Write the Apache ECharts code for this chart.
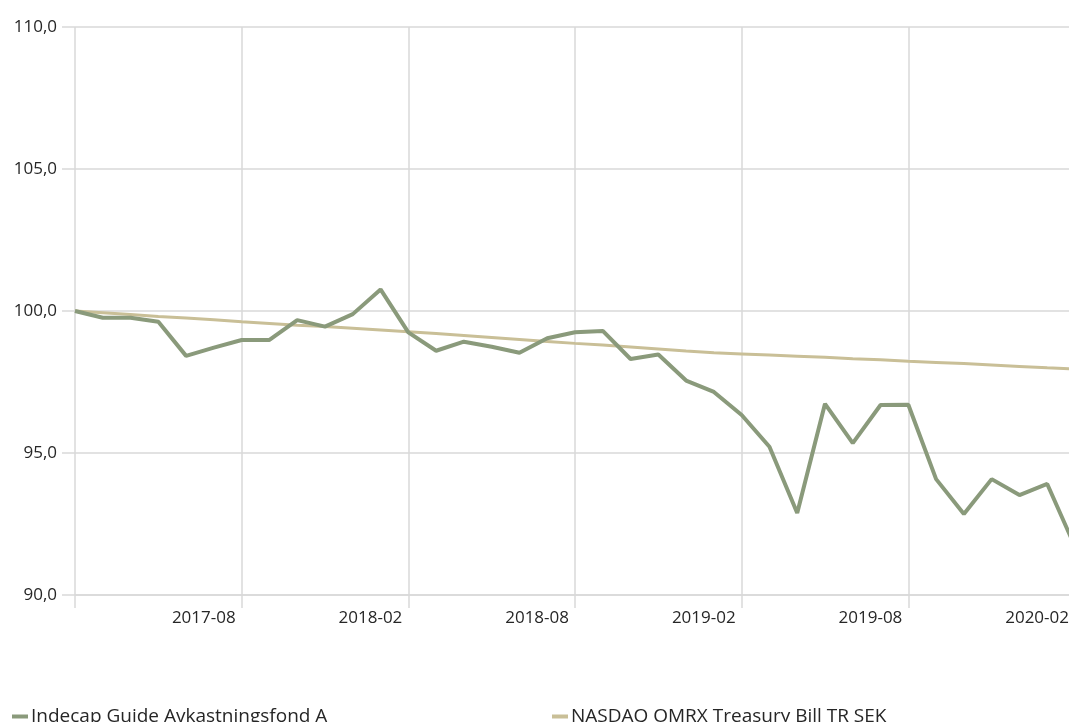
<!DOCTYPE html>
<html>
<head>
<meta charset="utf-8">
<script src="https://cdn.jsdelivr.net/npm/echarts@6/dist/echarts.min.js"></script>
<style>html,body{margin:0;padding:0;background:#fff}#c{width:1069px;height:722px}</style>
</head>
<body>
<div id="c"></div>
<script>
const months = ['2017-02','2017-03','2017-04','2017-05','2017-06','2017-07','2017-08','2017-09','2017-10','2017-11','2017-12',
'2018-01','2018-02','2018-03','2018-04','2018-05','2018-06','2018-07','2018-08','2018-09','2018-10','2018-11','2018-12',
'2019-01','2019-02','2019-03','2019-04','2019-05','2019-06','2019-07','2019-08','2019-09','2019-10','2019-11','2019-12',
'2020-01','2020-02'];
const fundName = 'Indecap Guide Avkastningsfond A';
const benchName = 'NASDAQ OMRX Treasury Bill TR SEK';
const fundValues = [100.00,99.76,99.76,99.62,98.42,98.71,98.98,98.98,99.68,99.45,99.89,
100.76,99.25,98.60,98.92,98.74,98.53,99.04,99.25,99.30,98.31,98.47,97.55,
97.15,96.34,95.22,92.89,96.73,95.35,96.69,96.70,94.08,92.85,94.08,93.52,
93.91,91.70];
const benchValues = [100.00,99.94,99.88,99.81,99.75,99.69,99.62,99.56,99.50,99.45,99.39,
99.33,99.27,99.21,99.14,99.07,99.00,98.93,98.86,98.80,98.73,98.66,98.59,
98.53,98.49,98.45,98.41,98.37,98.32,98.28,98.23,98.19,98.15,98.10,98.05,
98.00,97.96];
const yTicks = {min: 90, max: 110, step: 5};

const font = '"Open Sans", sans-serif';
const gridColor = '#d9d9d9';
const chart = echarts.init(document.getElementById('c'), null, {renderer: 'canvas'});
chart.setOption({
  animation: false,
  backgroundColor: '#ffffff',
  grid: {left: 75, top: 27, width: 1000, height: 568, containLabel: false, outerBoundsMode: 'none'},
  legend: [
    {data: [fundName], left: 12, top: 707, padding: 0, icon: 'rect', itemWidth: 16, itemHeight: 4,
     textStyle: {fontFamily: font, fontSize: 19, color: '#262626', padding: [0,0,0,-2]}},
    {data: [benchName], left: 552, top: 707, padding: 0, icon: 'rect', itemWidth: 16, itemHeight: 4,
     textStyle: {fontFamily: font, fontSize: 19, color: '#262626', padding: [0,0,0,-2]}}
  ],
  xAxis: {
    type: 'category',
    data: months,
    boundaryGap: false,
    axisLine: {show: true, lineStyle: {color: gridColor, width: 1.5}},
    axisTick: {show: true, length: 13, interval: (i) => i % 6 === 0, lineStyle: {color: gridColor, width: 1.5}},
    splitLine: {show: true, interval: (i) => i % 6 === 0, lineStyle: {color: gridColor, width: 1.5}},
    axisLabel: {
      interval: (i) => i % 6 === 0 && i > 0,
      align: 'right', verticalAlign: 'top', margin: 15,
      padding: [0, 6, 0, 0],
      fontFamily: font, fontSize: 17, color: '#262626'
    }
  },
  yAxis: {
    type: 'value',
    min: yTicks.min, max: yTicks.max, interval: yTicks.step,
    axisLine: {show: false},
    axisTick: {show: true, length: 13, lineStyle: {color: gridColor, width: 1.5}},
    splitLine: {show: true, lineStyle: {color: gridColor, width: 1.5}},
    axisLabel: {
      margin: 18,
      formatter: (v) => v.toFixed(1).replace('.', ','),
      fontFamily: font, fontSize: 17, color: '#262626'
    }
  },
  series: [
    {name: fundName, type: 'line', data: fundValues, showSymbol: false, z: 3,
     lineStyle: {color: '#8a9a7b', width: 4}, itemStyle: {color: '#8a9a7b'}},
    {name: benchName, type: 'line', data: benchValues, showSymbol: false, z: 2,
     lineStyle: {color: '#c9bf97', width: 3}, itemStyle: {color: '#c9bf97'}}
  ]
});
</script>
</body>
</html>
